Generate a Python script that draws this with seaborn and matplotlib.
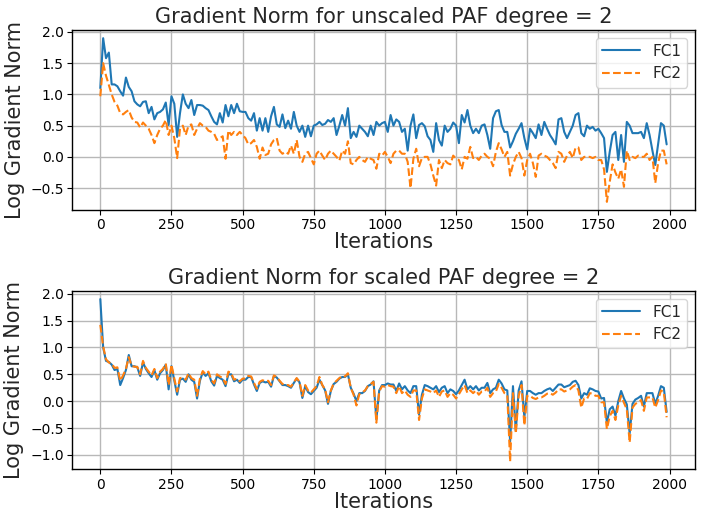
import numpy as np
import pandas as pd
import matplotlib
matplotlib.use("Agg")
import matplotlib.pyplot as plt
import seaborn as sns

iterations = list(range(0, 2000, 10))

unscaled_fc1 = [
    1.1, 1.9, 1.58, 1.67, 1.16, 1.16, 1.13, 1.05, 0.98, 1.27,
    1.12, 1.05, 0.89, 0.84, 0.81, 0.88, 0.89, 0.7, 0.8, 0.6,
    0.7, 0.72, 0.76, 0.87, 0.51, 0.97, 0.85, 0.32, 0.7, 1.0,
    0.85, 0.78, 0.91, 0.67, 0.83, 0.83, 0.82, 0.78, 0.75, 0.65,
    0.56, 0.52, 0.7, 0.55, 0.83, 0.65, 0.83, 0.7, 0.85, 0.73,
    0.72, 0.72, 0.62, 0.58, 0.7, 0.42, 0.62, 0.42, 0.62, 0.4,
    0.65, 0.8, 0.52, 0.48, 0.68, 0.46, 0.58, 0.45, 0.72, 0.5,
    0.4, 0.5, 0.32, 0.5, 0.33, 0.5, 0.52, 0.56, 0.51, 0.53,
    0.59, 0.56, 0.62, 0.35, 0.5, 0.67, 0.5, 0.78, 0.3, 0.4,
    0.32, 0.5, 0.45, 0.4, 0.33, 0.5, 0.35, 0.56, 0.5, 0.54,
    0.56, 0.4, 0.67, 0.5, 0.6, 0.56, 0.4, 0.45, 0.1, 0.5,
    0.68, 0.3, 0.51, 0.54, 0.49, 0.33, 0.27, 0.08, 0.54, 0.27,
    0.18, 0.5, 0.4, 0.45, 0.55, 0.5, 0.22, 0.67, 0.55, 0.75,
    0.5, 0.38, 0.45, 0.38, 0.5, 0.52, 0.35, 0.13, 0.62, 0.73,
    0.75, 0.51, 0.4, 0.4, 0.15, 0.25, 0.37, 0.45, 0.54, 0.3,
    0.12, 0.45, 0.38, 0.3, 0.52, 0.35, 0.56, 0.45, 0.35, 0.28,
    0.2, 0.6, 0.62, 0.4, 0.3, 0.4, 0.5, 0.67, 0.7, 0.38,
    0.33, 0.5, 0.45, 0.48, 0.42, 0.45, 0.38, 0.3, -0.24, 0.08,
    0.35, 0.4, -0.05, 0.35, -0.08, 0.56, 0.5, 0.38, 0.38, 0.38,
    0.4, 0.3, 0.54, 0.35, 0.1, -0.13, 0.2, 0.54, 0.5, 0.2,
]

unscaled_fc2 = [
    0.97, 1.5, 1.3, 1.15, 1.0, 0.88, 0.82, 0.7, 0.68, 0.72,
    0.75, 0.63, 0.56, 0.55, 0.47, 0.55, 0.5, 0.45, 0.35, 0.22,
    0.35, 0.45, 0.5, 0.59, 0.35, 0.5, 0.3, -0.02, 0.45, 0.5,
    0.35, 0.5, 0.52, 0.35, 0.45, 0.54, 0.5, 0.48, 0.42, 0.4,
    0.37, 0.27, 0.3, 0.33, -0.03, 0.42, 0.35, 0.4, 0.35, 0.4,
    0.35, 0.3, 0.2, 0.22, 0.27, 0.16, -0.03, 0.15, 0.03, 0.05,
    0.2, 0.27, 0.3, 0.1, 0.05, 0.08, 0.05, 0.18, 0.05, 0.27,
    0.0, -0.08, 0.05, 0.08, -0.02, -0.12, 0.05, 0.1, 0.02, -0.05,
    0.05, 0.1, 0.05, 0.0, -0.06, 0.1, 0.05, 0.25, -0.1, -0.12,
    -0.05, 0.0, -0.05, -0.08, 0.0, -0.03, -0.05, -0.19, 0.05, 0.02,
    0.08, 0.0, -0.1, 0.05, 0.1, 0.1, 0.05, 0.05, -0.08, -0.5,
    -0.03, 0.13, -0.15, -0.02, 0.0, 0.0, -0.12, -0.3, -0.46, -0.05,
    -0.18, -0.05, -0.1, -0.12, 0.02, -0.03, -0.05, -0.2, 0.0, -0.03,
    0.16, -0.02, 0.0, -0.05, 0.02, 0.05, 0.0, -0.03, -0.15, 0.08,
    0.22, 0.12, 0.0, 0.08, -0.3, -0.12, 0.0, 0.08, -0.02, -0.3,
    -0.05, 0.05, -0.1, -0.32, 0.02, 0.05, 0.02, 0.0, -0.05, -0.1,
    -0.18, 0.08, 0.05, -0.08, 0.02, 0.08, -0.02, 0.15, 0.15, -0.05,
    0.0, 0.0, 0.0, -0.02, 0.0, -0.05, -0.05, -0.2, -0.72, -0.4,
    -0.12, -0.25, -0.35, -0.2, -0.48, 0.1, -0.05, 0.0, -0.02, 0.02,
    0.0, 0.0, 0.05, -0.05, 0.0, -0.42, -0.1, 0.1, 0.1, -0.12,
]

scaled_fc1 = [
    1.9, 1.0, 0.75, 0.73, 0.68, 0.58, 0.6, 0.3, 0.43, 0.58,
    0.86, 0.65, 0.65, 0.63, 0.47, 0.72, 0.6, 0.52, 0.45, 0.58,
    0.4, 0.52, 0.58, 0.68, 0.22, 0.65, 0.38, 0.12, 0.4, 0.42,
    0.36, 0.5, 0.4, 0.36, 0.05, 0.38, 0.54, 0.47, 0.52, 0.37,
    0.29, 0.47, 0.43, 0.4, 0.28, 0.5, 0.5, 0.37, 0.4, 0.34,
    0.4, 0.4, 0.45, 0.45, 0.31, 0.19, 0.34, 0.37, 0.35, 0.36,
    0.27, 0.47, 0.44, 0.37, 0.3, 0.3, 0.28, 0.25, 0.34, 0.42,
    0.35, 0.06, 0.28, 0.17, 0.13, 0.19, 0.25, 0.4, 0.3, 0.2,
    -0.05, 0.19, 0.32, 0.36, 0.42, 0.45, 0.45, 0.5, 0.25, 0.14,
    0.0, 0.15, 0.15, 0.19, 0.28, 0.31, 0.37, -0.34, 0.2, 0.3,
    0.3, 0.33, 0.31, 0.31, 0.19, 0.33, 0.22, 0.28, 0.2, 0.15,
    0.28, 0.28, -0.25, 0.12, 0.3, 0.28, 0.25, 0.22, 0.28, 0.17,
    0.25, 0.28, 0.15, 0.22, 0.19, 0.13, 0.2, 0.3, 0.4, 0.22,
    0.28, 0.22, 0.28, 0.2, 0.25, 0.25, 0.34, 0.15, 0.22, 0.25,
    0.4, 0.33, 0.22, 0.2, -0.75, 0.28, -0.55, 0.2, 0.37, -0.3,
    0.19, 0.19, 0.15, 0.12, 0.15, 0.15, 0.19, 0.22, 0.24, 0.19,
    0.25, 0.31, 0.31, 0.26, 0.28, 0.3, 0.36, 0.38, 0.3, 0.05,
    0.15, 0.12, 0.24, 0.22, 0.19, 0.18, 0.05, 0.06, -0.4, -0.15,
    -0.1, -0.27, 0.0, 0.19, 0.05, -0.06, -0.6, -0.05, 0.03, 0.06,
    0.1, -0.1, 0.15, 0.15, 0.15, -0.05, 0.1, 0.28, 0.25, -0.2,
]

scaled_fc2 = [
    1.42, 1.02, 0.78, 0.72, 0.7, 0.62, 0.63, 0.38, 0.48, 0.6,
    0.82, 0.66, 0.64, 0.64, 0.5, 0.75, 0.62, 0.55, 0.48, 0.6,
    0.43, 0.55, 0.6, 0.7, 0.3, 0.68, 0.42, 0.18, 0.43, 0.44,
    0.4, 0.52, 0.43, 0.4, 0.1, 0.42, 0.56, 0.5, 0.55, 0.4,
    0.33, 0.5, 0.46, 0.43, 0.32, 0.55, 0.52, 0.4, 0.42, 0.37,
    0.42, 0.42, 0.47, 0.46, 0.34, 0.23, 0.36, 0.39, 0.37, 0.38,
    0.3, 0.48, 0.45, 0.38, 0.32, 0.3, 0.3, 0.27, 0.35, 0.43,
    0.36, 0.1, 0.3, 0.2, 0.16, 0.22, 0.28, 0.45, 0.3, 0.22,
    -0.02, 0.2, 0.33, 0.38, 0.43, 0.47, 0.46, 0.52, 0.25, 0.12,
    -0.08, 0.13, 0.16, 0.2, 0.28, 0.32, 0.36, -0.4, 0.18, 0.28,
    0.27, 0.3, 0.28, 0.27, 0.15, 0.28, 0.15, 0.2, 0.12, 0.08,
    0.2, 0.2, -0.35, 0.05, 0.22, 0.2, 0.18, 0.15, 0.2, 0.08,
    0.18, 0.2, 0.08, 0.15, 0.12, 0.05, 0.13, 0.22, 0.3, 0.15,
    0.2, 0.15, 0.2, 0.12, 0.18, 0.18, 0.25, 0.08, 0.15, 0.18,
    0.32, 0.25, 0.15, 0.12, -1.12, 0.15, -0.6, 0.1, 0.3, -0.45,
    0.1, 0.1, 0.06, 0.04, 0.07, 0.07, 0.1, 0.14, 0.15, 0.12,
    0.16, 0.22, 0.22, 0.18, 0.2, 0.22, 0.27, 0.3, 0.2, -0.12,
    0.05, 0.04, 0.15, 0.14, 0.1, 0.1, -0.02, -0.02, -0.52, -0.28,
    -0.18, -0.35, -0.08, 0.1, -0.03, -0.15, -0.77, -0.12, -0.05, -0.02,
    0.02, -0.18, 0.07, 0.07, 0.07, -0.12, 0.02, 0.2, 0.17, -0.3,
]

titles = ["Gradient Norm for unscaled PAF degree = 2",
          "Gradient Norm for scaled PAF degree = 2"]
series_names = ["FC1", "FC2"]

sns.set_style("ticks")
plt.rcParams["font.family"] = ["DejaVu Sans"]

fig = plt.figure(figsize=(7.01, 5.14), dpi=100)
ax_top = fig.add_axes([0.1027, 0.5914, 0.8887, 0.3502])
ax_bot = fig.add_axes([0.1027, 0.0866, 0.8887, 0.3473])

colors = ["#1f77b4", "#ff7f0e"]
styles = ["-", "--"]

for ax, title, fc1, fc2 in [(ax_top, titles[0], unscaled_fc1, unscaled_fc2),
                            (ax_bot, titles[1], scaled_fc1, scaled_fc2)]:
    df = pd.DataFrame({"Iterations": iterations, "FC1": fc1, "FC2": fc2})
    for name, c, ls in zip(series_names, colors, styles):
        sns.lineplot(data=df, x="Iterations", y=name, ax=ax, color=c,
                     linestyle=ls, linewidth=1.5, label=name)
    ax.set_title(title, fontsize=15, pad=5)
    ax.set_xlabel("Iterations", fontsize=15, labelpad=0)
    ax.set_ylabel("Log Gradient Norm", fontsize=15, labelpad=4)
    ax.grid(True, color="#b8b8b8", linewidth=1.0)
    ax.set_xticks([0, 250, 500, 750, 1000, 1250, 1500, 1750, 2000])
    ax.tick_params(labelsize=10, length=3.5, pad=2.5, color="black",
                   labelcolor="black")
    for s in ax.spines.values():
        s.set_color("black")
        s.set_linewidth(1.0)
    leg = ax.legend(loc="upper right", fontsize=11, frameon=True,
                    handlelength=2.5)
    leg.get_frame().set_edgecolor("#cccccc")

ax_top.set_yticks([-0.5, 0.0, 0.5, 1.0, 1.5, 2.0])
ax_bot.set_yticks([-1.0, -0.5, 0.0, 0.5, 1.0, 1.5, 2.0])

fig.savefig("out.png", dpi=100)
